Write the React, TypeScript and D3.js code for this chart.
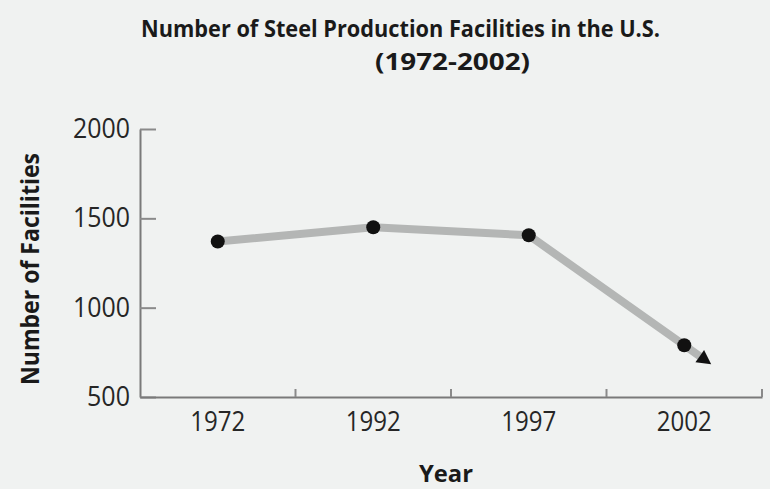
import { useEffect, useRef } from "react";
import * as d3 from "d3";

const years = ["1972", "1992", "1997", "2002"];
const facilities = [1370, 1450, 1405, 790];
const yTicks = [500, 1000, 1500, 2000];

function App() {
  const canvas = useRef<SVGSVGElement>(null);

  const drawChart = () => {
    const width = 770;
    const height = 489;
    const margin = { top: 129, left: 140, bottom: 92, right: 8 };
    const iwidth = width - margin.left - margin.right;
    const iheight = height - margin.top - margin.bottom;

    const svg = d3.select(canvas.current);
    svg.selectAll("*").remove();
    svg.attr("width", width).attr("height", height);

    svg.append("rect").attr("width", width).attr("height", height).attr("fill", "#f0f2f1");

    const g = svg.append("g").attr("transform", `translate(${margin.left},${margin.top})`);

    const x = d3.scaleBand().domain(years).range([0, iwidth]).padding(0);
    const y = d3.scaleLinear().domain([500, 2000]).range([iheight, 0]);

    // y axis, ticks pointing inward
    const yAxis = d3.axisLeft(y).tickValues(yTicks).tickFormat(d3.format("d")).tickSize(-16).tickSizeOuter(0);
    const ya = g.append("g").call(yAxis);
    ya.select(".domain").attr("stroke", "#7a7a7a").attr("stroke-width", 2);
    ya.selectAll(".tick line").attr("stroke", "#8a8a8a").attr("stroke-width", 2);
    ya.selectAll<SVGTextElement, number>(".tick text")
      .attr("font-family", "Open Sans")
      .attr("font-size", 27)
      .attr("fill", "#262626")
      .attr("x", -10)
      .attr("textLength", (d) => (d >= 1000 ? 57 : 43))
      .attr("lengthAdjust", "spacingAndGlyphs");

    // x axis: labels at band centres, ticks at band edges
    const xAxis = d3.axisBottom(x).tickSize(0).tickSizeOuter(0).tickPadding(15);
    const xa = g.append("g").attr("transform", `translate(0,${iheight})`).call(xAxis);
    xa.select(".domain").attr("stroke", "#7a7a7a").attr("stroke-width", 2);
    xa.selectAll(".tick text")
      .attr("font-family", "Open Sans")
      .attr("font-size", 27)
      .attr("fill", "#262626")
      .attr("textLength", 55)
      .attr("lengthAdjust", "spacingAndGlyphs");
    g.selectAll(".xedge")
      .data(years)
      .join("line")
      .attr("class", "xedge")
      .attr("x1", (d) => (x(d) as number) + x.bandwidth())
      .attr("x2", (d) => (x(d) as number) + x.bandwidth())
      .attr("y1", iheight)
      .attr("y2", iheight - 8)
      .attr("stroke", "#8a8a8a")
      .attr("stroke-width", 2);

    const pts: [number, number][] = years.map((d, i) => [
      (x(d) as number) + x.bandwidth() / 2,
      y(facilities[i]),
    ]);

    // trend continues past the last point to an arrow head
    const n = pts.length;
    const dx = pts[n - 1][0] - pts[n - 2][0];
    const dy = pts[n - 1][1] - pts[n - 2][1];
    const len = Math.hypot(dx, dy);
    const ux = dx / len;
    const uy = dy / len;
    const tip: [number, number] = [pts[n - 1][0] + ux * 33, pts[n - 1][1] + uy * 33];
    const base: [number, number] = [tip[0] - ux * 14, tip[1] - uy * 14];

    g.append("path")
      .attr("d", d3.line()([...pts, base]) as string)
      .attr("fill", "none")
      .attr("stroke", "#b4b6b5")
      .attr("stroke-width", 8)
      .attr("stroke-linejoin", "round");

    const hw = 7.5;
    g.append("path")
      .attr(
        "d",
        `M${tip[0]},${tip[1]}L${base[0] - uy * hw},${base[1] + ux * hw}L${base[0] + uy * hw},${base[1] - ux * hw}Z`
      )
      .attr("fill", "#111");

    g.selectAll(".dot")
      .data(pts)
      .join("circle")
      .attr("class", "dot")
      .attr("cx", (d) => d[0])
      .attr("cy", (d) => d[1])
      .attr("r", 7)
      .attr("fill", "#111");

    // titles
    const title = svg.append("g")
      .attr("font-family", "Open Sans")
      .attr("font-weight", "bold")
      .attr("font-size", 23)
      .attr("fill", "#1a1a1a");
    title.append("text")
      .attr("x", 141)
      .attr("y", 37)
      .attr("textLength", 519)
      .attr("lengthAdjust", "spacingAndGlyphs")
      .text("Number of Steel Production Facilities in the U.S.");
    title.append("text")
      .attr("x", 375)
      .attr("y", 70)
      .attr("textLength", 155)
      .attr("lengthAdjust", "spacingAndGlyphs")
      .text("(1972-2002)");

    svg.append("text")
      .attr("transform", `translate(39,385) rotate(-90)`)
      .attr("font-family", "Open Sans")
      .attr("font-weight", "bold")
      .attr("font-size", 25)
      .attr("fill", "#1a1a1a")
      .attr("textLength", 232)
      .attr("lengthAdjust", "spacingAndGlyphs")
      .text("Number of Facilities");

    svg.append("text")
      .attr("x", 419)
      .attr("y", 482)
      .attr("font-family", "Open Sans")
      .attr("font-weight", "bold")
      .attr("font-size", 23)
      .attr("fill", "#1a1a1a")
      .attr("textLength", 54)
      .attr("lengthAdjust", "spacingAndGlyphs")
      .text("Year");
  };

  useEffect(() => {
    drawChart();
  }, []);

  return (
    <div style={{ position: "absolute", left: 0, top: 0 }}>
      <svg ref={canvas} style={{ display: "block" }} />
    </div>
  );
}

export default App;
